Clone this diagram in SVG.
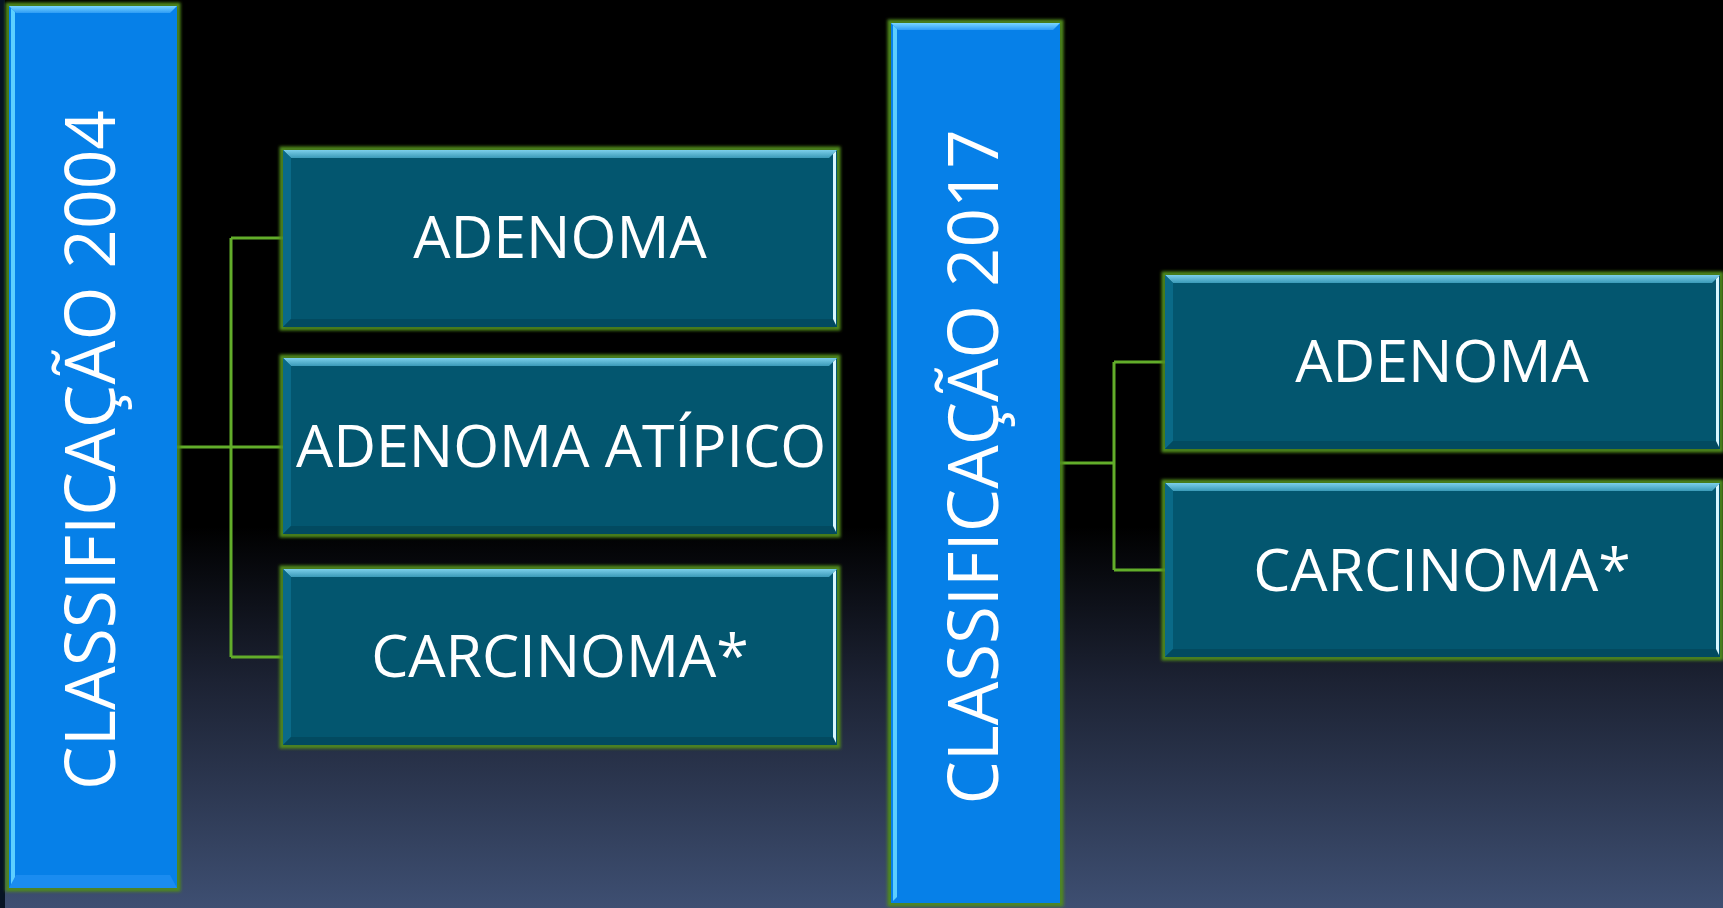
<svg xmlns="http://www.w3.org/2000/svg" width="1723" height="908" viewBox="0 0 1723 908">
<defs>
<linearGradient id="bg" x1="0" y1="0" x2="0" y2="1">
<stop offset="0" stop-color="#000000"/>
<stop offset="0.58" stop-color="#000000"/>
<stop offset="0.75" stop-color="#1c2233"/>
<stop offset="1" stop-color="#3e4f72"/>
</linearGradient>
<filter id="glow" x="-5%" y="-5%" width="110%" height="110%">
<feGaussianBlur stdDeviation="1.5"/>
</filter>
<linearGradient id="topT" x1="0" y1="0" x2="0" y2="1">
<stop offset="0" stop-color="#7ccfea"/>
<stop offset="1" stop-color="#3a9ab8"/>
</linearGradient>
<linearGradient id="topB" x1="0" y1="0" x2="0" y2="1">
<stop offset="0" stop-color="#7ad6ff"/>
<stop offset="1" stop-color="#2e9cf5"/>
</linearGradient>
</defs>
<style>
text{font-family:"Open Sans","Liberation Sans",sans-serif;fill:#ffffff;text-anchor:middle}
.big{font-size:69px}
.lbl{font-size:59px}
.rim{fill:none;stroke:#4f8a1c;stroke-width:5;filter:url(#glow)}
.tall{fill:#0680e8}
.teal{fill:#03566f}
.tTop{fill:url(#topT)}
.tLeft{fill:#0a6a88}
.tRight{fill:#d8f6ff}
.tBot{fill:#024a60}
.bTop{fill:url(#topB)}
.bLeft{fill:#5ccfff}
.bBot{fill:#1a8cf0}
.conn{fill:none;stroke:#62ad2a;stroke-width:3}
</style>
<rect x="0" y="0" width="1723" height="908" fill="url(#bg)"/>
<rect x="0" y="0" width="5" height="908" fill="#071424"/>

<g id="connectors">
<path class="conn" d="M177 447 H231 M231 238 V657 M231 238 H283 M231 447 H283 M231 657 H283"/>
<path class="conn" d="M1060 463 H1114 M1114 362 V570 M1114 362 H1165 M1114 570 H1165"/>
</g>

<g id="class2004">
<rect class="rim" x="8" y="5" width="170" height="884"/>
<rect class="tall" x="9" y="6" width="168" height="882"/>
<polygon class="bTop" points="9,6 177,6 170,13 16,13"/>
<polygon class="bLeft" points="11,8 15,12 15,882 11,886"/>
<polygon class="bBot" points="16,875 170,875 177,888 9,888"/>
<text class="big" transform="translate(115,450) rotate(-90)" textLength="680" lengthAdjust="spacingAndGlyphs">CLASSIFICAÇÃO 2004</text>
</g>

<g id="adenoma1">
<rect class="rim" x="282" y="149" width="556" height="179"/>
<rect class="teal" x="283" y="150" width="554" height="177"/>
<polygon class="tTop" points="283,150 837,150 829,158 291,158"/>
<polygon class="tLeft" points="283,150 291,158 291,319 283,327"/>
<polygon class="tRight" points="833,154 836,151 836,326 833,322"/>
<polygon class="tBot" points="291,319 833,319 837,327 283,327"/>
<text class="lbl" x="560" y="258">ADENOMA</text>
</g>

<g id="atipico1">
<rect class="rim" x="282" y="357" width="556" height="178"/>
<rect class="teal" x="283" y="358" width="554" height="176"/>
<polygon class="tTop" points="283,358 837,358 829,366 291,366"/>
<polygon class="tLeft" points="283,358 291,366 291,526 283,534"/>
<polygon class="tRight" points="833,362 836,359 836,533 833,529"/>
<polygon class="tBot" points="291,526 833,526 837,534 283,534"/>
<text class="lbl" x="561" y="467">ADENOMA ATÍPICO</text>
</g>

<g id="carcinoma1">
<rect class="rim" x="282" y="568" width="556" height="178"/>
<rect class="teal" x="283" y="569" width="554" height="176"/>
<polygon class="tTop" points="283,569 837,569 829,577 291,577"/>
<polygon class="tLeft" points="283,569 291,577 291,737 283,745"/>
<polygon class="tRight" points="833,573 836,570 836,744 833,740"/>
<polygon class="tBot" points="291,737 833,737 837,745 283,745"/>
<text class="lbl" x="560" y="677">CARCINOMA*</text>
</g>

<g id="class2017">
<rect class="rim" x="890" y="22" width="171" height="882"/>
<rect class="tall" x="891" y="23" width="169" height="880"/>
<polygon class="bTop" points="891,23 1060,23 1053,30 898,30"/>
<polygon class="bLeft" points="893,25 897,29 897,897 893,901"/>
<text class="big" transform="translate(998,467) rotate(-90)" textLength="675" lengthAdjust="spacingAndGlyphs">CLASSIFICAÇÃO 2017</text>
</g>

<g id="adenoma2">
<rect class="rim" x="1164" y="274" width="557" height="176"/>
<rect class="teal" x="1165" y="275" width="555" height="174"/>
<polygon class="tTop" points="1165,275 1720,275 1712,283 1173,283"/>
<polygon class="tLeft" points="1165,275 1173,283 1173,441 1165,449"/>
<polygon class="tRight" points="1716,279 1719,276 1719,448 1716,444"/>
<polygon class="tBot" points="1173,441 1716,441 1720,449 1165,449"/>
<text class="lbl" x="1442" y="382">ADENOMA</text>
</g>

<g id="carcinoma2">
<rect class="rim" x="1164" y="482" width="557" height="176"/>
<rect class="teal" x="1165" y="483" width="555" height="174"/>
<polygon class="tTop" points="1165,483 1720,483 1712,491 1173,491"/>
<polygon class="tLeft" points="1165,483 1173,491 1173,649 1165,657"/>
<polygon class="tRight" points="1716,487 1719,484 1719,656 1716,652"/>
<polygon class="tBot" points="1173,649 1716,649 1720,657 1165,657"/>
<text class="lbl" x="1442" y="591">CARCINOMA*</text>
</g>
</svg>
